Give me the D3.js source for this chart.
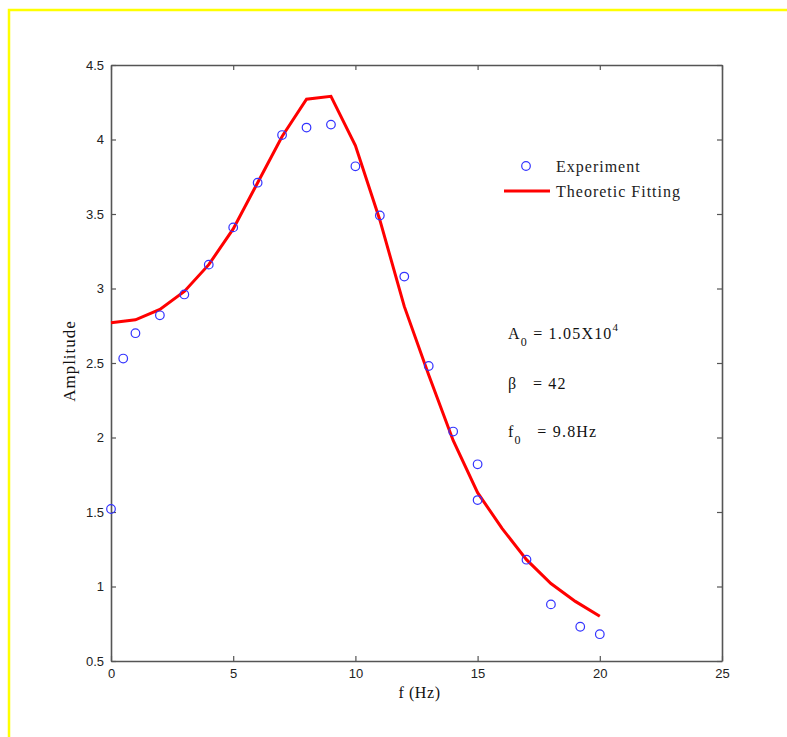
<!DOCTYPE html>
<html>
<head>
<meta charset="utf-8">
<script src="https://cdn.jsdelivr.net/npm/d3@7"></script>
<style>
html,body{margin:0;padding:0;background:#fff;}
svg{display:block;}
</style>
</head>
<body>
<svg id="chart" width="787" height="737"></svg>
<script>
// Experimental data (blue circles)
const expFreq = [0, 0.5, 1, 2, 3, 4, 5, 6, 7, 8, 9, 10, 11, 12, 13, 14, 15, 15, 17, 18, 19.2, 20];
const expAmp  = [1.52, 2.53, 2.70, 2.82, 2.96, 3.16, 3.41, 3.71, 4.03, 4.08, 4.10, 3.82, 3.49, 3.08, 2.48, 2.04, 1.82, 1.58, 1.18, 0.88, 0.73, 0.68];
// Theoretic fitting (red line)
const fitFreq = [0, 1, 2, 3, 4, 5, 6, 7, 8, 9, 10, 11, 12, 13, 14, 15, 16, 17, 18, 19, 20];
const fitAmp  = [2.77, 2.79, 2.86, 2.98, 3.16, 3.40, 3.71, 4.02, 4.27, 4.29, 3.96, 3.46, 2.88, 2.42, 1.98, 1.63, 1.39, 1.18, 1.02, 0.90, 0.80];
const xTicks = [0, 5, 10, 15, 20, 25];
const yTicks = [0.5, 1, 1.5, 2, 2.5, 3, 3.5, 4, 4.5];
const xLabel = "f (Hz)";
const yLabel = "Amplitude";
const legendLabels = ["Experiment", "Theoretic Fitting"];

const svg = d3.select("#chart");
const L = 111, R = 722, T = 65, B = 661;
const x = d3.scaleLinear().domain([0, 25]).range([L, R]);
const y = d3.scaleLinear().domain([0.5, 4.5]).range([B, T]);

// yellow frame
svg.append("path").attr("d", `M9,737 L9,10 L787,10`).attr("fill","none")
  .attr("stroke","#ffff00").attr("stroke-width",2.5);

const axisColor = "#555";
const tickFont = "'Liberation Sans', Arial, sans-serif";

// axes with inward ticks
const gB = svg.append("g").attr("transform",`translate(0,${B})`)
  .call(d3.axisBottom(x).tickValues(xTicks).tickFormat(d3.format("d")).tickSizeInner(-5).tickSizeOuter(0).tickPadding(8));
const gT = svg.append("g").attr("transform",`translate(0,${T})`)
  .call(d3.axisTop(x).tickValues(xTicks).tickFormat("").tickSizeInner(-5).tickSizeOuter(0));
const gL = svg.append("g").attr("transform",`translate(${L},0)`)
  .call(d3.axisLeft(y).tickValues(yTicks).tickFormat(d => d3.format("")(d)).tickSizeInner(-5).tickSizeOuter(0).tickPadding(7));
const gR = svg.append("g").attr("transform",`translate(${R},0)`)
  .call(d3.axisRight(y).tickValues(yTicks).tickFormat("").tickSizeInner(-5).tickSizeOuter(0));
[gB,gT,gL,gR].forEach(g => {
  g.select(".domain").attr("stroke",axisColor).attr("stroke-width",1.6);
  g.selectAll(".tick line").attr("stroke",axisColor).attr("stroke-width",1.2);
  g.selectAll("text").attr("fill","#222").style("font-family",tickFont).style("font-size","13px");
});

// fit line
const line = d3.line().x((d,i)=>x(fitFreq[i])).y(d=>y(d));
svg.append("path").datum(fitAmp).attr("d", line).attr("fill","none")
  .attr("stroke","#ff0000").attr("stroke-width",3).attr("stroke-linejoin","miter");

// experiment points
svg.append("g").selectAll("circle").data(expAmp).join("circle")
  .attr("cx",(d,i)=>x(expFreq[i])).attr("cy",d=>y(d)).attr("r",4.3)
  .attr("fill","none").attr("stroke","#3333ff").attr("stroke-width",1.2);

const serif = "'Liberation Serif', 'Times New Roman', serif";
// axis labels
svg.append("text").attr("x",(L+R)/2 + 3).attr("y",698).attr("text-anchor","middle")
  .style("font-family",serif).style("font-size","16px").style("letter-spacing","0.6px").attr("fill","#111").text(xLabel);
svg.append("text").attr("transform",`translate(75,${(T+B)/2 - 2}) rotate(-90)`).attr("text-anchor","middle")
  .style("font-family",serif).style("font-size","17px").style("letter-spacing","1px").attr("fill","#111").text(yLabel);

// legend
svg.append("circle").attr("cx",526).attr("cy",166).attr("r",4.3).attr("fill","none")
  .attr("stroke","#3333ff").attr("stroke-width",1.2);
svg.append("text").attr("x",556).attr("y",172).style("font-family",serif).style("font-size","16px")
  .style("letter-spacing","1px").attr("fill","#222").text(legendLabels[0]);
svg.append("line").attr("x1",504).attr("x2",550).attr("y1",191).attr("y2",191)
  .attr("stroke","#ff0000").attr("stroke-width",3);
svg.append("text").attr("x",556).attr("y",197).style("font-family",serif).style("font-size","16px")
  .style("letter-spacing","1px").attr("fill","#222").text(legendLabels[1]);

// annotations
const ann = svg.append("g").style("font-family",serif).style("font-size","16px").style("letter-spacing","1.2px").attr("fill","#111");
const t1 = ann.append("text").attr("x",508).attr("y",339);
t1.append("tspan").text("A");
t1.append("tspan").attr("dy",7).style("font-size","12px").text("0");
t1.append("tspan").attr("dy",-7).text("\u00A0= 1.05X10");
t1.append("tspan").attr("dy",-8).style("font-size","11px").text("4");
ann.append("text").attr("x",508).attr("y",389).text("\u03B2\u00A0\u00A0 = 42");
const t3 = ann.append("text").attr("x",508).attr("y",437);
t3.append("tspan").text("f");
t3.append("tspan").attr("dy",7).style("font-size","12px").text("0");
t3.append("tspan").attr("dy",-7).text("\u00A0\u00A0 = 9.8Hz");
</script>
</body>
</html>
